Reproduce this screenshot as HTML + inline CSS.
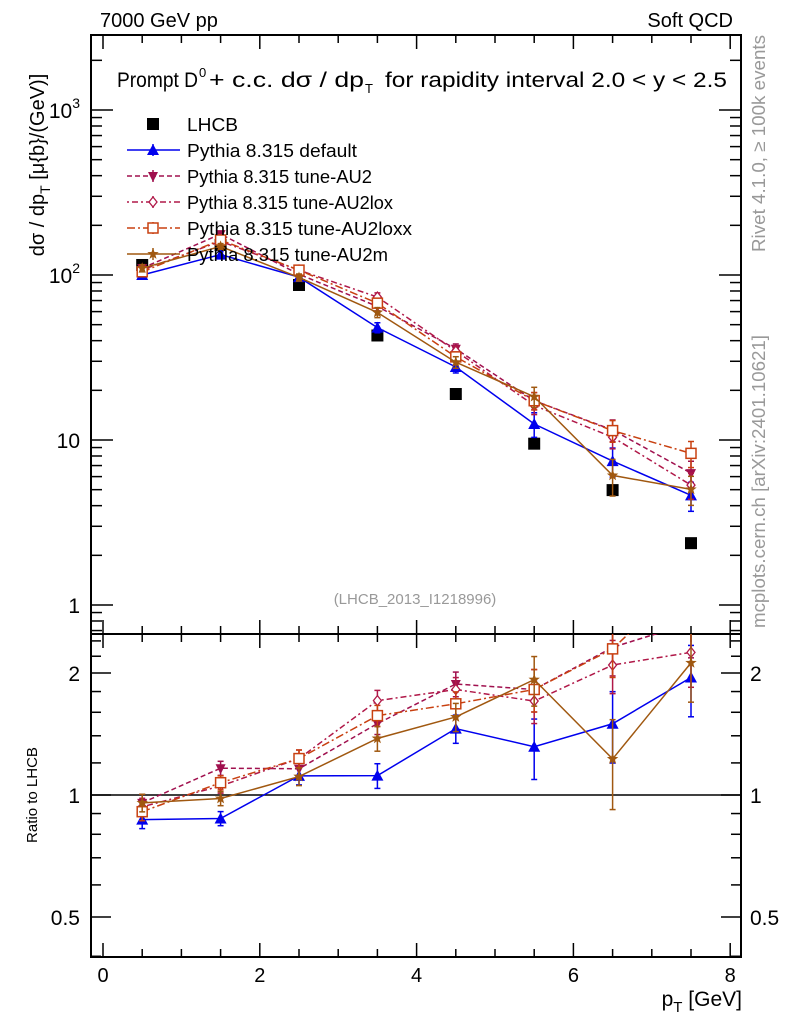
<!DOCTYPE html>
<html><head><meta charset="utf-8"><style>
body{margin:0;background:#fff}
svg{display:block;font-family:"Liberation Sans",sans-serif}
</style></head><body>
<svg id="c" width="786" height="1024" viewBox="0 0 786 1024"></svg>
<script>
const pt=[0.5,1.5,2.5,3.5,4.5,5.5,6.5,7.5];
const lhcb=[115,152,87,43,19,9.5,4.97,2.37];
const sDefault=[100,133,97,48,27.7,12.5,7.45,4.62];
const sAU2=[110,177,101,64.5,35.7,17.3,11.5,6.3];
const sAU2lox=[107.5,160,107,73.5,34.6,16.2,10.4,5.33];
const sAU2loxx=[104.6,163,107,67.5,31.9,17.3,11.4,8.3];
const sAU2m=[110,149,96.6,59.3,29.6,18.3,6.1,5.02];
const errDefault=[0.05,0.04,0.05,0.07,0.08,0.17,0.2,0.2];
const errAU2=[0.05,0.04,0.05,0.06,0.07,0.12,0.15,0.18];
const errAU2lox=[0.05,0.04,0.05,0.06,0.07,0.12,0.15,0.18];
const errAU2loxx=[0.05,0.04,0.05,0.06,0.07,0.12,0.15,0.18];
const errAU2m=[0.05,0.04,0.05,0.07,0.08,0.14,0.25,0.2];
const mainTicks=[1,10,100,1000];
const ratioTicks=[0.5,1,2];
const xTicks=[0,2,4,6,8];

const NS="http://www.w3.org/2000/svg";
const svg=document.getElementById('c');
function el(t,a,p){const e=document.createElementNS(NS,t);for(const k in a)e.setAttribute(k,a[k]);(p||svg).appendChild(e);return e;}
const L=91,R=741,T=35,M=634,B=957;
const X=v=>103+v*78.4;
const Y=v=>440-165*(Math.log10(v)-1);
const YR=r=>795-122*Math.log2(r);

let f=el('rect',{x:L,y:T,width:R-L,height:M-T,fill:'none',stroke:'#000','stroke-width':2});

f=el('rect',{x:L,y:M,width:R-L,height:B-M,fill:'none',stroke:'#000','stroke-width':2});


for(let v=0;v<=8.01;v+=0.5){const maj=Math.abs(v-Math.round(v/2)*2)<1e-6;const h=maj?14:8;
 for(const [yb,dir] of [[B,-1],[M,1],[M,-1],[T,1]]){el('line',{x1:X(v),x2:X(v),y1:yb,y2:yb+dir*h,stroke:'#000','stroke-width':1.5});}}
xTicks.forEach(v=>{const t=el('text',{x:X(v),y:982,'font-size':20,'text-anchor':'middle'});t.textContent=v;
 });
let t=el('text',{x:742,y:1006,'font-size':21,'text-anchor':'end'});
t.innerHTML='p<tspan font-size="15" dy="6">T</tspan><tspan dy="-6"> [GeV]</tspan>';


for(let d=-1;d<4;d++){for(let m=1;m<10;m++){const v=m*Math.pow(10,d);const y=Y(v);if(y<T||y>M)continue;const h=m==1?22:11;
 el('line',{x1:L,x2:L+h,y1:y,y2:y,stroke:'#000','stroke-width':1.5});el('line',{x1:R,x2:R-h,y1:y,y2:y,stroke:'#000','stroke-width':1.5});}}
mainTicks.forEach(v=>{const y=Y(v);const t=el('text',{x:80,y:y+8,'font-size':21,'text-anchor':'end'});
 if(v>=100){t.innerHTML='10<tspan font-size="14" dy="-10">'+Math.log10(v)+'</tspan>';}else t.textContent=v;
 });
t=el('text',{x:0,y:0,'font-size':20,transform:'translate(44,165) rotate(-90)','text-anchor':'middle'});
t.innerHTML='dσ / dp<tspan font-size="14" dy="6">T</tspan><tspan dy="-6"> [μ{b}/(GeV)]</tspan>';


[0.4,0.5,0.6,0.7,0.8,0.9,1,1.2,1.4,1.6,1.8,2,2.2,2.4].forEach(v=>{const y=YR(v);if(y<M||y>B)return;const maj=[0.5,1,2].includes(v);const h=maj?20:10;
 el('line',{x1:L,x2:L+h,y1:y,y2:y,stroke:'#000','stroke-width':1.5});el('line',{x1:R,x2:R-h,y1:y,y2:y,stroke:'#000','stroke-width':1.5});});
ratioTicks.forEach(v=>{const y=YR(v);let t=el('text',{x:80,y:y+8,'font-size':21,'text-anchor':'end'});t.textContent=v;
 
 t=el('text',{x:750,y:y+8,'font-size':21});t.textContent=v;
 });
el('line',{x1:L,x2:R,y1:YR(1),y2:YR(1),stroke:'#000','stroke-width':1.5});
t=el('text',{x:0,y:0,'font-size':15,transform:'translate(37,795) rotate(-90)','text-anchor':'middle'});t.textContent='Ratio to LHCB';


t=el('text',{x:100,y:27,'font-size':20});t.textContent='7000 GeV pp';
t=el('text',{x:733,y:27,'font-size':20,'text-anchor':'end'});t.textContent='Soft QCD';
const tg=el('g',{'font-size':21});
t=el('text',{x:117,y:87,textLength:81,lengthAdjust:'spacingAndGlyphs'},tg);t.textContent='Prompt D';
t=el('text',{x:199,y:77,'font-size':13},tg);t.textContent='0';
t=el('text',{x:209,y:87,textLength:155,lengthAdjust:'spacingAndGlyphs'},tg);t.textContent='+ c.c.  dσ / dp';
t=el('text',{x:365,y:93,'font-size':13},tg);t.textContent='T';
t=el('text',{x:385,y:87,textLength:342,lengthAdjust:'spacingAndGlyphs'},tg);t.textContent='for rapidity interval 2.0 < y < 2.5';
t=el('text',{x:415,y:604,'font-size':15,fill:'#999','text-anchor':'middle'});t.textContent='(LHCB_2013_I1218996)';
t=el('text',{x:0,y:0,'font-size':18,fill:'#999',transform:'translate(765,252) rotate(-90)',textLength:217,lengthAdjust:'spacingAndGlyphs'});t.textContent='Rivet 4.1.0, ≥ 100k events';
t=el('text',{x:0,y:0,'font-size':18,fill:'#999',transform:'translate(765,628) rotate(-90)',textLength:293,lengthAdjust:'spacingAndGlyphs'});t.textContent='mcplots.cern.ch [arXiv:2401.10621]';

function marker(type,x,y,c,g){
 if(type=='sq')return el('rect',{x:x-6,y:y-6,width:12,height:12,fill:'#000'},g);
 if(type=='tri')return el('polygon',{points:`${x},${y-6} ${x-6},${y+5} ${x+6},${y+5}`,fill:c},g);
 if(type=='tridown')return el('polygon',{points:`${x},${y+6} ${x-5},${y-4} ${x+5},${y-4}`,fill:c},g);
 if(type=='dia')return el('polygon',{points:`${x},${y-5} ${x+4},${y} ${x},${y+5} ${x-4},${y}`,fill:'#fff',stroke:c,'stroke-width':1.3},g);
 if(type=='osq')return el('rect',{x:x-5,y:y-5,width:10,height:10,fill:'#fff',stroke:c,'stroke-width':1.5},g);
 if(type=='star'){let p=[];for(let i=0;i<10;i++){const r=i%2?2.5:6;const a=-Math.PI/2+i*Math.PI/5;p.push((x+r*Math.cos(a))+','+(y+r*Math.sin(a)));}return el('polygon',{points:p.join(' '),fill:c},g);}
}
const series=[
 {name:'default',label:'Pythia 8.315 default',vals:sDefault,err:errDefault,c:'#0000ee',dash:'',m:'tri',w:170},
 {name:'au2',label:'Pythia 8.315 tune-AU2',vals:sAU2,err:errAU2,c:'#a0104e',dash:'5,3',m:'tridown',w:185},
 {name:'au2lox',label:'Pythia 8.315 tune-AU2lox',vals:sAU2lox,err:errAU2lox,c:'#b01848',dash:'2,3,6,3',m:'dia',w:206},
 {name:'au2loxx',label:'Pythia 8.315 tune-AU2loxx',vals:sAU2loxx,err:errAU2loxx,c:'#c84010',dash:'8,3,2,3',m:'osq',w:225},
 {name:'au2m',label:'Pythia 8.315 tune-AU2m',vals:sAU2m,err:errAU2m,c:'#a05810',dash:'',m:'star',w:201}];

const defs=el('defs',{});
el('rect',{x:L,y:T,width:R-L,height:M-T},el('clipPath',{id:'cm'},defs));
el('rect',{x:L,y:M,width:R-L,height:B-M},el('clipPath',{id:'cr'},defs));

const gd=el('g',{});
pt.forEach((x,i)=>{const m=marker('sq',X(x),Y(lhcb[i]),'#000',gd);});

series.forEach(s=>{
 [[Y,'cm',s.vals],[YR,'cr',s.vals.map((v,i)=>v/lhcb[i])]].forEach(([yf,cp,vs],k)=>{
  const g=el('g',{'clip-path':`url(#${cp})`});
  
  el('polyline',{points:pt.map((x,i)=>X(x)+','+yf(vs[i])).join(' '),fill:'none',stroke:s.c,'stroke-width':1.5,'stroke-dasharray':s.dash},g);
  pt.forEach((x,i)=>{const y1=yf(vs[i]*(1+s.err[i])),y2=yf(vs[i]*(1-s.err[i]));
   el('line',{x1:X(x),x2:X(x),y1:y1,y2:y2,stroke:s.c,'stroke-width':1.5},g);
   el('line',{x1:X(x)-3,x2:X(x)+3,y1:y1,y2:y1,stroke:s.c,'stroke-width':1.5},g);
   el('line',{x1:X(x)-3,x2:X(x)+3,y1:y2,y2:y2,stroke:s.c,'stroke-width':1.5},g);
   const m=marker(s.m,X(x),yf(vs[i]),s.c,g);});
 });
});

const lg=el('g',{});
let e=el('g',{},lg);
marker('sq',153,124,'#000',e);t=el('text',{x:187,y:131,'font-size':18,textLength:51,lengthAdjust:'spacingAndGlyphs'},e);t.textContent='LHCB';
series.forEach((s,i)=>{const y=150+i*26;const g=el('g',{},lg);
 el('line',{x1:127,x2:180,y1:y,y2:y,stroke:s.c,'stroke-width':1.5,'stroke-dasharray':s.dash},g);
 el('line',{x1:153,x2:153,y1:y-6,y2:y+6,stroke:s.c,'stroke-width':1.5},g);
 marker(s.m,153,y,s.c,g);const t=el('text',{x:187,y:y+7,'font-size':18,textLength:s.w,lengthAdjust:'spacingAndGlyphs'},g);t.textContent=s.label;});
</script>
</body></html>
